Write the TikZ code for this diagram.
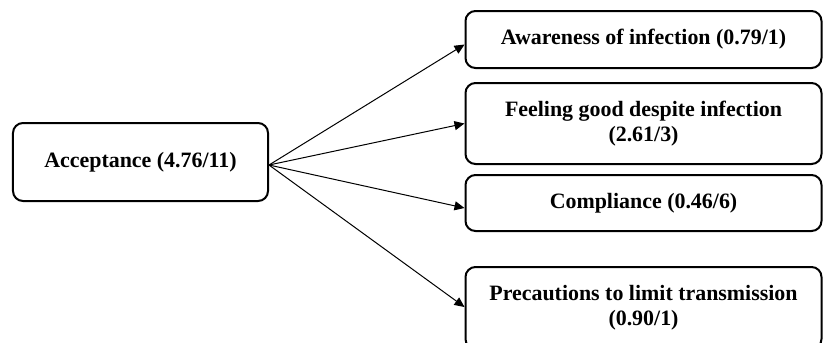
\documentclass[tikz,border=0pt]{standalone}
\usepackage{fontspec}
\setmainfont{Liberation Serif}
\usetikzlibrary{arrows.meta}

\tikzset{
    factor/.style={draw, line width=1bp, rounded corners=5bp, align=center,
        font=\fontsize{11}{12.5}\selectfont\bfseries, inner sep=0pt},
    link/.style={line width=0.5bp, -{Triangle[length=5bp,width=4.5bp]}}
}

\begin{document}
\begin{tikzpicture}[x=0.5bp, y=-0.5bp]

    \useasboundingbox (0,0) rectangle (824,342);
    \clip (0,0) rectangle (824,342);

    % Main factor
    \node[factor, minimum width=127.5bp, minimum height=39bp] (accept) at (140.5,162) {Acceptance (4.76/11)};
    \coordinate (origin) at (269,165);

    % Sub factors
    \node[factor, minimum width=178bp, minimum height=28.5bp] (aware) at (643.5,39.5) {Awareness of infection (0.79/1)};
    \node[factor, minimum width=178bp, minimum height=40.5bp] (good) at (643.5,123.5) {Feeling good despite infection\\(2.61/3)};
    \node[factor, minimum width=178bp, minimum height=28bp] (comply) at (643.5,203) {Compliance (0.46/6)};
    \node[factor, minimum width=178bp, minimum height=41bp] (precaution) at (643.5,308) {Precautions to limit transmission\\(0.90/1)};

    % Arrows
    \draw[link] (origin) -- ([yshift=-2.5bp]aware.west);
    \draw[link] (origin) -- (good.west);
    \draw[link] (origin) -- ([yshift=-2.5bp]comply.west);
    \draw[link] (origin) -- ([yshift=0.5bp]precaution.west);

\end{tikzpicture}
\end{document}
